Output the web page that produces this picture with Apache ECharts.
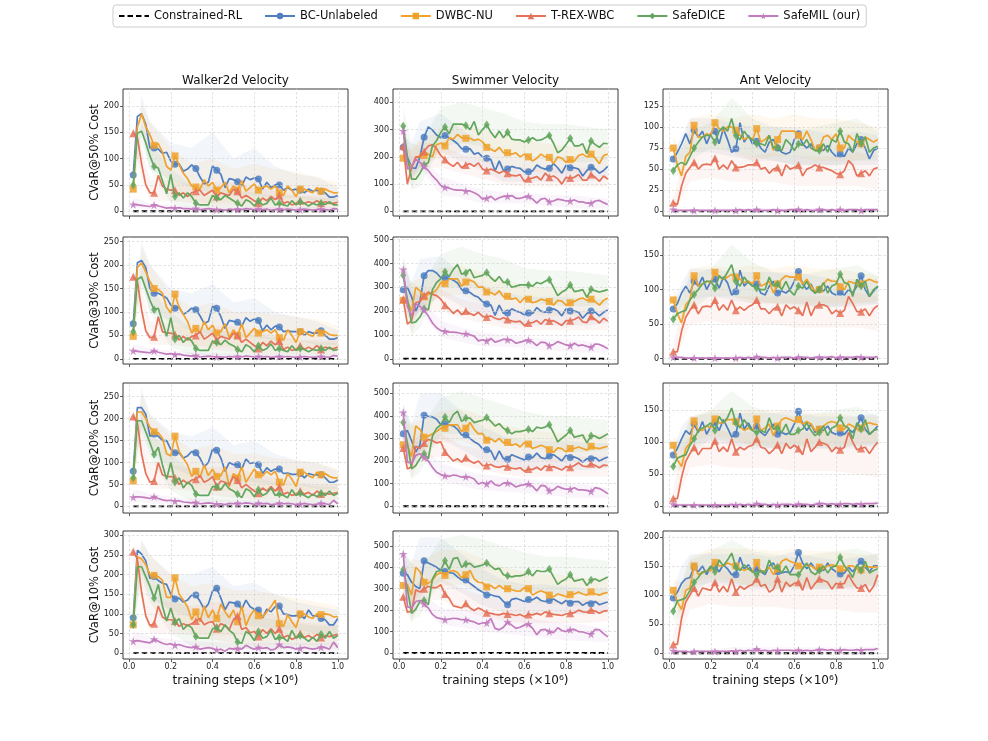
<!DOCTYPE html>
<html><head><meta charset="utf-8">
<script src="https://cdn.jsdelivr.net/npm/echarts@6/dist/echarts.min.js"></script>
<style>html,body{margin:0;padding:0;background:#fff}#c{width:988px;height:741px}</style>
</head><body><div id="c"></div>
<script>
// ---------- labels ----------
const METHODS = ['Constrained-RL','BC-Unlabeled','DWBC-NU','T-REX-WBC','SafeDICE','SafeMIL (our)'];
const ENVS = ['Walker2d Velocity','Swimmer Velocity','Ant Velocity'];
const LEVELS = ['CVaR@50% Cost','CVaR@30% Cost','CVaR@20% Cost','CVaR@10% Cost'];
const XLABEL = 'training steps (\u00d710\u2076)';
// ---------- x values ----------
const STEPS = [0.02,0.04,0.06,0.08,0.1,0.12,0.14,0.16,0.18,0.2,0.22,0.24,0.26,0.28,0.3,0.32,0.34,0.36,0.38,0.4,0.42,0.44,0.46,0.48,0.5,0.52,0.54,0.56,0.58,0.6,0.62,0.64,0.66,0.68,0.7,0.72,0.74,0.76,0.78,0.8,0.82,0.84,0.86,0.88,0.9,0.92,0.94,0.96,0.98,1.0];
const BAND_STEPS = [0.02,0.06,0.1,0.2,0.3,0.4,0.5,0.6,0.7,0.8,0.9,1.0];
const CONSTRAINED_X = [0.02,1.0];
const CONSTRAINED = [0,0];
const X_TICKS = [0,0.2,0.4,0.6,0.8,1.0];
// ---------- y tick labels ----------
const YT_W50=[0,50,100,150,200], YT_S50=[0,100,200,300,400], YT_A50=[0,25,50,75,100,125];
const YT_W30=[0,50,100,150,200,250], YT_S30=[0,100,200,300,400,500], YT_A30=[0,50,100,150];
const YT_W20=[0,50,100,150,200,250], YT_S20=[0,100,200,300,400,500], YT_A20=[0,50,100,150];
const YT_W10=[0,50,100,150,200,250,300], YT_S10=[0,100,200,300,400,500], YT_A10=[0,50,100,150,200];

// ---------- Walker2d, CVaR@50% ----------
const W50_BC=[69,180,185,165,120,120,118,110,112,95,89,90,76,80,88,81,65,52,55,86,78,70,45,62,60,56,48,65,60,63,61,42,55,45,50,50,40,45,40,42,40,35,42,38,40,38,35,27,27,30];
const W50_DW=[42,160,185,160,145,125,128,112,85,78,105,88,72,62,48,46,42,60,48,55,40,45,55,35,48,40,58,38,45,52,40,45,48,42,48,35,30,48,40,28,42,42,38,35,45,38,42,38,35,35];
const W50_TR=[148,140,90,50,35,35,68,48,42,40,40,30,35,28,35,38,40,30,35,40,28,35,32,30,42,38,25,30,25,20,15,25,20,28,22,30,15,18,12,15,20,15,18,15,20,15,18,15,15,17];
const W50_SD=[50,148,152,130,105,85,82,58,33,70,28,35,25,35,28,15,12,12,12,30,25,22,30,25,20,15,10,22,18,10,20,12,15,25,12,15,12,10,20,12,18,15,10,15,12,15,13,18,12,12];
const W50_SM=[13,12,11,10,9,12,10,8,6,7,6,7,5,5,4,5,3,4,5,4,3,3,2,4,3,4,3,5,4,3,4,3,4,2,3,4,3,4,3,2,3,4,3,2,3,4,3,2,5,4];
const W50_BC_HI=[75,220,170,130,120,150,100,120,85,70,65,45], W50_BC_LO=[60,150,80,60,45,35,30,30,25,25,20,15];
const W50_DW_HI=[50,200,170,120,90,100,80,90,80,75,65,55], W50_DW_LO=[35,160,100,50,20,15,15,15,15,15,15,15];
const W50_TR_HI=[160,120,60,60,50,55,55,45,40,30,30,30], W50_TR_LO=[135,60,20,20,15,10,10,5,5,5,5,5];
const W50_SD_HI=[60,170,130,80,50,50,40,35,30,30,25,25], W50_SD_LO=[40,130,80,15,5,5,3,3,3,3,3,3];
const W50_SM_HI=[25,22,15,12,10,10,9,8,8,8,8,8], W50_SM_LO=[5,5,3,1,0,0,0,0,0,0,0,0];

// ---------- Swimmer, CVaR@50% ----------
const S50_BC=[235,200,160,158,200,272,310,298,280,270,278,270,260,248,230,228,230,210,215,200,195,190,148,185,150,155,165,160,158,145,145,148,170,160,155,158,175,160,140,170,160,160,155,130,150,162,155,140,150,165];
const S50_DW=[195,185,160,195,205,205,210,200,245,250,240,270,265,282,270,268,268,260,265,255,235,228,220,235,215,215,210,215,200,210,200,185,195,210,200,198,175,200,195,180,190,185,205,210,200,210,195,175,205,210];
const S50_TR=[240,100,160,200,200,220,240,245,230,205,190,175,165,180,160,170,175,165,178,155,150,155,148,140,148,140,132,130,135,110,120,122,128,115,140,125,130,120,100,125,122,125,135,115,115,135,125,110,130,118];
const S50_SD=[313,200,118,118,140,170,178,240,260,290,310,285,320,320,320,315,300,330,280,300,318,290,270,295,270,290,265,262,262,255,262,270,260,262,270,278,250,215,225,245,268,240,240,248,212,258,245,235,250,248];
const S50_SM=[295,155,165,190,180,165,150,130,115,95,88,85,80,78,78,75,75,68,60,45,48,55,42,50,55,55,58,48,48,52,55,45,30,45,48,35,38,45,42,38,38,42,35,35,30,30,38,40,32,25];
const S50_BC_HI=[280,250,330,360,300,250,220,200,200,200,200,200], S50_BC_LO=[190,120,150,220,180,150,110,110,110,110,110,120];
const S50_DW_HI=[220,240,260,300,320,300,280,260,250,240,240,240], S50_DW_LO=[170,120,160,200,220,180,160,150,140,140,140,160];
const S50_TR_HI=[260,220,260,240,210,190,170,160,160,160,160,150], S50_TR_LO=[220,80,160,160,140,120,100,90,90,90,90,90];
const S50_SD_HI=[380,250,240,380,400,380,360,330,320,320,310,300], S50_SD_LO=[260,80,90,240,250,240,220,200,190,180,180,190];
const S50_SM_HI=[330,200,200,130,100,80,70,70,60,60,55,45], S50_SM_LO=[260,130,160,60,50,30,30,30,20,15,10,10];

// ---------- Ant, CVaR@50% ----------
const A50_BC=[62,70,80,92,80,96,88,95,80,92,95,80,98,85,70,74,105,82,90,80,83,75,70,82,85,75,70,68,70,85,92,80,75,80,72,75,72,78,70,65,68,65,75,70,80,85,75,62,72,75];
const A50_DW=[75,55,42,65,70,102,88,88,92,90,105,98,95,100,100,96,90,85,88,85,98,82,85,90,72,85,95,95,95,95,90,85,95,85,72,75,88,90,85,92,75,75,90,85,82,80,88,85,82,85];
const A50_TR=[10,8,30,45,52,58,50,55,56,55,63,50,55,50,60,52,52,53,55,55,58,50,52,45,50,52,42,55,50,52,55,42,50,52,55,52,52,50,48,45,44,48,60,55,42,45,48,42,50,52];
const A50_SD=[48,55,58,55,65,75,82,88,90,90,82,95,100,95,110,90,85,95,88,85,80,80,78,90,75,76,72,85,80,72,80,78,85,75,72,72,80,70,85,82,95,82,80,70,92,80,88,70,75,77];
const A50_SM=[2,1,1,1,1,1,1,1,1,1,1,1,1,1,1,1,2,1,2,1,2,1,1,1,2,1,1,1,2,2,2,1,2,1,1,2,2,1,2,1,2,1,2,2,2,1,2,2,2,2];
const A50_BC_HI=[70,90,110,110,105,100,100,100,95,90,95,90], A50_BC_LO=[55,60,70,70,65,60,60,55,55,55,55,55];
const A50_DW_HI=[90,70,110,115,110,115,110,115,110,110,105,100], A50_DW_LO=[60,35,70,75,70,60,65,65,60,60,60,65];
const A50_TR_HI=[15,55,70,75,70,65,70,65,65,65,70,65], A50_TR_LO=[5,15,35,40,35,35,35,30,30,30,30,25];
const A50_SD_HI=[60,75,95,105,135,110,100,95,100,105,110,95], A50_SD_LO=[40,45,60,75,70,65,60,55,55,55,60,60];
const A50_SM_HI=[4,3,3,3,4,4,4,4,4,4,4,4], A50_SM_LO=[0,0,0,0,0,0,0,0,0,0,0,0];

// ---------- Walker2d, CVaR@30% ----------
const W30_BC=[75,205,210,195,150,140,140,135,130,115,108,110,95,100,108,105,92,75,80,112,108,90,65,82,80,78,70,88,80,85,82,60,72,62,70,68,58,60,58,58,58,50,58,55,55,60,50,42,42,45];
const W30_DW=[48,195,205,185,165,150,148,140,110,98,138,110,95,80,55,65,55,80,62,72,55,58,75,45,62,50,75,45,55,65,55,58,62,55,62,45,40,62,50,35,58,58,52,48,62,55,58,52,50,50];
const W30_TR=[175,165,105,60,45,47,90,58,55,55,52,40,48,40,48,50,58,42,48,55,40,48,45,42,55,50,35,42,35,28,22,35,28,38,30,38,20,25,18,20,28,20,25,20,28,20,25,22,22,25];
const W30_SD=[58,170,175,150,125,105,108,78,48,88,42,50,35,45,38,22,18,18,18,38,35,30,40,32,28,20,15,30,25,15,28,18,22,32,18,22,18,15,28,18,22,20,15,20,18,22,18,25,18,20];
const W30_SM=[17,16,15,14,13,17,14,12,10,11,9,10,8,7,6,7,4,5,6,5,4,4,3,5,4,5,4,6,5,4,5,4,5,3,4,5,4,5,4,3,4,5,4,3,4,5,4,3,7,6];
const W30_BC_HI=[85,250,200,150,140,160,120,130,100,90,80,60], W30_BC_LO=[65,170,100,80,60,50,45,45,40,40,30,30];
const W30_DW_HI=[60,240,200,140,110,120,100,100,95,90,85,70], W30_DW_LO=[40,180,120,70,30,25,25,25,25,25,25,25];
const W30_TR_HI=[190,150,80,75,65,70,70,60,50,40,40,40], W30_TR_LO=[160,80,30,30,25,20,15,10,10,10,10,10];
const W30_SD_HI=[70,200,150,100,65,65,55,50,45,40,35,35], W30_SD_LO=[45,150,100,25,8,8,5,5,5,5,5,5];
const W30_SM_HI=[30,28,22,18,14,12,12,10,10,10,10,10], W30_SM_LO=[8,8,5,2,0,0,0,0,0,0,0,0];

// ---------- Swimmer, CVaR@30% ----------
const S30_BC=[290,300,260,200,240,348,370,370,360,340,340,338,330,318,290,285,278,265,258,240,230,225,182,225,190,192,210,200,195,185,192,190,215,200,195,205,210,200,180,210,200,200,195,170,190,200,195,180,195,205];
const S30_DW=[245,240,200,300,285,260,270,275,290,320,315,335,335,335,305,322,330,322,300,302,280,278,268,285,260,262,250,255,235,255,250,235,240,250,245,240,225,245,242,225,235,240,250,255,245,250,240,225,245,255];
const S30_TR=[250,145,160,235,240,265,280,270,265,250,225,210,190,205,185,200,190,182,195,178,175,180,170,165,172,165,158,155,158,140,150,152,160,145,165,158,160,150,140,160,160,165,175,155,152,178,165,150,170,158];
const S30_SD=[350,250,150,155,175,210,205,290,320,335,365,345,375,395,355,360,375,340,345,350,362,340,325,345,320,322,300,305,310,310,310,305,320,315,325,332,300,265,280,290,310,282,285,290,258,292,285,280,285,290];
const S30_SM=[375,220,180,230,220,205,180,150,130,118,115,112,112,110,105,105,100,95,75,80,75,85,70,75,82,80,78,65,70,75,78,70,55,70,68,55,60,72,65,58,55,65,55,58,52,48,62,60,52,42];
const S30_BC_HI=[400,320,420,430,360,310,280,260,260,260,250,250], S30_BC_LO=[230,150,200,270,220,180,150,140,140,140,140,150];
const S30_DW_HI=[300,320,340,380,390,360,330,310,300,290,290,290], S30_DW_LO=[200,160,210,260,270,230,200,190,180,180,180,200];
const S30_TR_HI=[280,240,300,290,250,230,210,200,200,200,200,200], S30_TR_LO=[220,100,200,200,170,150,130,120,120,120,120,120];
const S30_SD_HI=[420,320,300,440,470,440,420,380,370,370,360,350], S30_SD_LO=[290,100,130,300,300,290,260,240,230,220,220,230];
const S30_SM_HI=[430,290,260,160,130,110,100,90,85,80,75,60], S30_SM_LO=[320,170,200,90,70,50,50,45,35,30,25,25];

// ---------- Ant, CVaR@30% ----------
const A30_BC=[72,80,95,105,95,112,105,118,100,112,115,102,118,110,92,97,128,105,112,105,108,95,92,105,112,95,98,95,100,112,126,108,100,108,95,100,98,105,95,92,96,92,100,95,105,120,100,90,98,104];
const A30_DW=[85,65,52,78,85,120,105,108,112,110,125,118,115,118,122,118,115,110,112,108,120,105,108,112,95,108,115,120,118,118,118,108,115,105,98,100,108,115,112,112,104,100,112,110,108,108,112,115,112,110];
const A30_TR=[10,10,40,60,70,78,65,75,76,75,85,70,78,70,85,70,75,70,75,78,85,72,72,65,72,75,62,78,72,75,70,62,82,62,75,78,78,75,65,70,66,70,90,80,68,68,72,62,72,77];
const A30_SD=[57,65,68,70,85,93,100,108,112,112,102,120,115,125,136,112,105,118,110,105,102,100,100,118,105,108,100,112,98,92,105,102,112,100,95,100,110,95,105,108,122,110,108,90,115,105,112,90,100,105];
const A30_SM=[2,2,2,1,1,1,1,1,1,1,1,1,1,1,1,1,2,1,2,1,3,2,2,1,2,1,2,2,2,1,2,2,2,1,2,2,2,2,3,1,2,2,2,2,3,2,2,2,2,3];
const A30_BC_HI=[80,110,130,130,125,125,125,125,120,115,115,115], A30_BC_LO=[60,75,85,90,85,80,80,80,75,75,75,80];
const A30_DW_HI=[100,85,130,135,130,135,130,135,130,130,125,120], A30_DW_LO=[70,45,90,95,90,80,80,80,80,80,80,85];
const A30_TR_HI=[20,70,90,95,90,90,90,90,90,90,95,90], A30_TR_LO=[5,20,50,55,50,50,50,45,45,45,45,40];
const A30_SD_HI=[70,90,120,130,165,140,125,120,125,130,135,120], A30_SD_LO=[45,55,70,90,90,85,80,75,75,75,80,80];
const A30_SM_HI=[5,4,4,4,5,5,5,5,5,5,5,5], A30_SM_LO=[0,0,0,0,0,0,0,0,0,0,0,0];

// ---------- Walker2d, CVaR@20% ----------
const W20_BC=[80,225,225,210,160,165,160,150,150,130,122,122,110,115,125,122,110,90,100,130,128,110,80,100,95,95,85,108,98,100,95,75,88,80,85,85,75,76,73,73,75,65,75,72,72,72,65,55,55,60];
const W20_DW=[58,215,215,200,180,170,168,155,120,115,160,125,110,95,68,80,65,95,70,85,68,70,90,45,75,65,90,55,70,85,72,70,80,72,80,55,48,75,62,45,78,78,70,65,78,72,75,68,65,65];
const W20_TR=[205,190,120,75,55,58,100,72,68,68,65,50,60,52,60,62,70,55,60,68,45,58,55,50,68,60,42,50,42,35,30,42,35,45,35,45,28,32,25,28,35,28,32,25,35,28,30,28,30,32];
const W20_SD=[65,195,195,170,145,118,135,95,62,100,55,65,42,55,48,28,25,25,25,45,45,38,52,40,35,28,20,40,35,22,38,25,30,42,25,28,25,20,38,25,30,25,20,28,22,30,25,35,25,30];
const W20_SM=[21,22,21,20,18,22,18,15,13,14,12,13,10,9,8,9,6,7,8,7,5,6,4,7,6,7,6,8,7,5,7,6,7,4,5,7,6,7,6,4,5,7,5,4,5,7,6,4,14,6];
const W20_BC_HI=[95,270,210,170,160,180,140,150,120,105,100,80], W20_BC_LO=[70,180,120,90,70,60,55,55,50,50,40,40];
const W20_DW_HI=[70,255,210,160,130,140,120,120,110,105,100,85], W20_DW_LO=[45,190,140,80,40,35,35,35,35,35,35,35];
const W20_TR_HI=[220,185,100,95,85,90,90,75,65,55,50,50], W20_TR_LO=[185,100,40,40,35,25,20,15,15,15,15,15];
const W20_SD_HI=[80,230,170,120,80,80,70,65,55,50,45,45], W20_SD_LO=[50,170,110,35,12,10,8,8,8,8,8,8];
const W20_SM_HI=[38,35,28,22,18,16,15,14,14,14,14,14], W20_SM_LO=[10,10,6,3,0,0,0,0,0,0,0,0];

// ---------- Swimmer, CVaR@20% ----------
const S20_BC=[320,335,290,240,270,402,398,395,385,360,365,360,355,340,315,315,300,285,275,255,250,245,205,245,210,208,228,220,212,205,218,215,235,215,210,222,228,215,200,225,215,218,210,195,210,210,215,200,210,218];
const S20_DW=[272,270,220,355,340,305,310,320,330,345,345,360,360,360,330,345,370,340,320,322,292,298,285,300,280,282,270,275,262,282,275,255,262,270,262,250,238,258,255,240,255,255,262,255,248,265,258,255,260,265];
const S20_TR=[258,165,175,265,255,280,295,290,280,285,240,220,200,210,195,215,200,190,200,180,180,185,175,172,178,175,168,165,170,155,165,162,172,160,178,172,175,168,160,175,172,180,192,178,175,188,180,170,182,180];
const S20_SD=[370,280,165,180,210,232,210,310,345,360,395,370,405,420,375,390,390,370,375,380,392,375,355,365,345,335,320,330,330,335,340,330,350,345,350,360,325,285,300,315,335,305,310,315,280,312,310,300,310,320];
const S20_SM=[415,195,190,225,232,215,200,172,150,140,135,132,138,135,128,130,128,120,98,105,98,112,95,90,102,103,98,85,92,95,98,88,68,92,90,68,72,88,80,75,75,82,72,72,70,65,82,78,68,55];
const S20_BC_HI=[440,360,500,500,420,350,310,290,290,290,280,280], S20_BC_LO=[240,170,240,300,250,200,170,160,160,160,160,170];
const S20_DW_HI=[340,370,380,420,430,400,360,340,330,320,320,320], S20_DW_LO=[220,180,240,280,290,250,220,210,200,200,200,220];
const S20_TR_HI=[290,270,320,320,270,250,230,220,220,220,220,220], S20_TR_LO=[230,120,210,220,180,160,140,130,130,130,130,130];
const S20_SD_HI=[450,360,340,480,510,480,450,420,400,400,390,380], S20_SD_LO=[300,120,150,320,320,310,280,260,250,240,240,250];
const S20_SM_HI=[460,300,280,190,160,140,130,120,110,100,95,80], S20_SM_LO=[360,180,220,110,90,70,65,60,50,40,35,35];

// ---------- Ant, CVaR@20% ----------
const A20_BC=[80,90,105,118,112,128,115,132,112,125,130,118,135,122,108,112,145,120,130,118,125,115,110,120,128,112,115,112,115,128,148,128,118,128,115,120,118,125,115,112,114,112,120,115,125,138,120,112,118,125];
const A20_DW=[95,72,62,90,98,133,118,118,125,122,136,130,130,135,135,132,125,118,122,118,136,118,122,128,110,125,135,138,135,132,135,128,132,128,118,120,125,130,132,130,122,120,128,125,120,122,128,130,128,127];
const A20_TR=[12,12,45,70,82,92,80,90,90,90,102,85,92,85,105,85,92,88,93,95,105,92,90,82,88,96,82,98,90,95,90,80,105,85,92,100,98,95,85,92,88,92,115,100,88,90,92,82,92,100];
const A20_SD=[62,75,78,80,95,105,118,122,125,130,118,140,130,138,153,130,122,135,125,118,115,118,115,138,120,122,115,128,112,112,118,120,130,118,110,115,125,110,122,125,138,125,122,105,130,120,135,112,118,120];
const A20_SM=[3,2,2,2,2,2,2,2,2,2,2,2,2,2,3,2,3,2,3,2,4,3,3,2,3,2,3,3,3,2,3,3,3,2,3,4,4,3,4,3,3,4,4,3,4,3,4,4,4,5];
const A20_BC_HI=[90,125,140,145,145,145,145,150,140,140,140,145], A20_BC_LO=[65,85,95,100,95,90,90,95,90,90,90,95];
const A20_DW_HI=[110,100,140,150,150,150,150,150,145,145,140,140], A20_DW_LO=[75,50,100,110,105,95,95,95,95,95,95,100];
const A20_TR_HI=[25,90,110,120,115,115,115,115,115,115,120,115], A20_TR_LO=[5,25,60,65,60,60,60,55,55,55,50,45];
const A20_SD_HI=[75,100,135,150,180,155,145,140,145,150,155,140], A20_SD_LO=[50,60,80,105,100,95,90,90,90,90,95,95];
const A20_SM_HI=[6,5,5,5,7,7,7,7,7,7,7,8], A20_SM_LO=[0,0,0,0,0,0,0,0,0,0,0,0];

// ---------- Walker2d, CVaR@10% ----------
const W10_BC=[90,262,252,235,190,195,185,178,175,150,138,140,130,135,148,148,132,112,125,158,165,140,110,130,128,125,112,135,118,112,110,90,112,105,118,120,100,98,95,95,98,88,110,95,95,88,85,72,72,88];
const W10_DW=[72,245,240,225,200,198,195,185,142,142,192,150,135,118,85,105,80,120,90,110,88,125,105,90,110,80,120,70,95,110,95,92,105,118,135,75,68,98,80,65,100,100,92,88,100,98,100,98,92,93];
const W10_TR=[258,240,155,95,70,75,120,92,85,85,82,68,75,70,75,82,88,72,78,80,62,75,70,60,85,95,60,65,52,55,42,60,50,62,50,62,40,45,35,40,50,40,45,38,48,40,45,42,45,48];
const W10_SD=[72,220,220,195,170,140,175,120,82,115,78,88,60,72,65,42,38,38,38,62,65,55,72,58,50,28,25,55,48,32,55,38,42,58,35,40,38,30,58,38,45,38,30,40,30,48,38,55,38,45];
const W10_SM=[30,32,30,28,26,35,30,25,22,24,20,22,18,15,14,16,10,12,14,12,8,10,5,12,10,12,10,20,14,10,14,12,14,8,10,22,14,16,14,10,12,15,12,10,12,15,14,10,28,14];
const W10_BC_HI=[110,290,250,200,200,220,170,180,150,130,120,110], W10_BC_LO=[75,210,140,110,90,80,70,70,60,60,50,50];
const W10_DW_HI=[85,285,250,200,170,180,160,160,150,140,130,120], W10_DW_LO=[55,210,160,100,50,45,45,45,45,45,45,45];
const W10_TR_HI=[275,240,140,130,120,130,130,110,95,80,75,75], W10_TR_LO=[235,130,50,50,45,35,25,20,20,20,20,20];
const W10_SD_HI=[90,260,200,150,110,110,100,95,85,75,70,70], W10_SD_LO=[55,190,130,50,18,15,10,10,10,10,10,10];
const W10_SM_HI=[55,50,42,35,30,28,26,25,25,25,25,25], W10_SM_LO=[10,12,8,4,0,0,0,0,0,0,0,0];

// ---------- Swimmer, CVaR@10% ----------
const S10_BC=[372,365,330,310,300,430,420,410,400,385,380,375,372,355,340,340,325,310,295,285,270,272,265,262,240,225,250,255,248,240,250,248,260,245,240,245,252,240,230,245,232,240,240,222,235,230,240,225,232,238];
const S10_DW=[315,320,270,400,380,330,325,340,365,375,362,380,385,375,350,365,385,345,330,328,308,315,300,315,300,300,295,290,288,305,300,270,282,290,282,270,262,275,270,262,272,275,285,275,270,285,275,270,278,282];
const S10_TR=[262,190,195,295,285,300,310,305,305,318,275,255,220,215,210,232,210,198,210,200,188,185,180,178,185,182,180,175,180,170,180,178,185,178,192,185,180,178,175,182,185,188,200,192,190,200,195,185,195,198];
const S10_SD=[390,300,185,205,240,245,225,345,380,385,430,390,440,445,400,415,418,400,405,410,420,405,390,395,365,360,355,360,360,365,380,360,385,380,380,392,355,320,335,345,365,335,340,345,315,340,345,335,345,355];
const S10_SM=[462,215,210,240,245,228,210,180,165,160,155,158,162,160,155,155,150,145,135,140,140,160,115,108,120,145,130,115,120,130,135,115,85,108,110,100,95,118,105,100,108,110,100,98,92,88,110,108,90,75];
const S10_BC_HI=[480,420,540,540,460,390,340,320,320,310,300,300], S10_BC_LO=[280,220,300,330,280,220,190,180,180,180,180,190];
const S10_DW_HI=[380,440,430,480,480,440,400,380,370,360,350,350], S10_DW_LO=[250,200,270,310,320,280,250,240,230,220,220,240];
const S10_TR_HI=[300,300,340,350,300,270,250,240,240,240,250,240], S10_TR_LO=[220,140,240,250,200,170,150,140,140,140,140,150];
const S10_SD_HI=[470,420,380,530,550,530,500,470,450,450,440,430], S10_SD_LO=[310,150,170,340,350,340,310,290,280,270,270,280];
const S10_SM_HI=[500,300,290,210,200,190,180,170,150,140,130,110], S10_SM_LO=[420,160,230,130,120,100,90,80,70,60,55,50];

// ---------- Ant, CVaR@10% ----------
const A10_BC=[95,105,120,128,130,148,140,150,135,148,150,140,152,145,135,135,165,145,152,140,145,140,135,150,155,140,138,140,138,150,173,155,145,155,145,145,142,155,145,140,136,138,148,140,150,158,148,140,150,150];
const A10_DW=[108,88,75,108,112,150,135,138,142,142,156,150,150,155,152,150,145,142,145,140,156,140,142,148,135,145,158,162,158,155,150,148,152,150,145,148,145,150,152,150,145,142,150,150,145,143,150,148,148,148];
const A10_TR=[15,15,60,88,100,112,98,112,110,108,122,105,115,105,128,105,115,110,115,118,128,115,118,105,110,128,105,122,115,120,122,108,130,110,120,128,125,122,110,120,118,120,135,122,112,112,118,105,115,135];
const A10_SD=[72,90,92,95,108,122,130,140,140,150,140,160,150,160,172,148,142,152,145,140,135,142,138,160,145,148,138,150,135,135,135,145,155,140,135,142,150,138,148,150,165,150,142,130,152,142,158,138,142,145];
const A10_SM=[4,3,3,3,2,3,3,3,3,3,3,3,3,3,4,3,5,3,5,4,7,4,5,3,5,4,5,5,5,4,5,4,5,4,5,6,6,5,6,4,5,6,5,5,6,5,6,6,6,8];
const A10_BC_HI=[110,150,170,170,170,170,165,175,165,160,165,170], A10_BC_LO=[80,100,115,120,115,110,110,115,110,110,110,115];
const A10_DW_HI=[125,120,165,180,180,180,175,180,175,175,170,170], A10_DW_LO=[90,60,120,130,125,115,115,115,115,115,115,120];
const A10_TR_HI=[30,110,135,145,140,140,140,140,140,140,145,150], A10_TR_LO=[5,35,75,85,80,80,80,75,75,75,70,70];
const A10_SD_HI=[90,120,160,175,195,175,170,165,170,175,180,170], A10_SD_LO=[55,70,100,125,120,115,110,110,110,110,115,115];
const A10_SM_HI=[8,6,6,6,10,10,10,10,10,10,10,12], A10_SM_LO=[0,0,0,0,0,0,0,0,0,0,0,0];

// ---------- panel table (built from the arrays above) ----------
const PANELS = [
 {row:0,col:0,min:-9,  max:232,ticks:YT_W50,d:[W50_BC,W50_DW,W50_TR,W50_SD,W50_SM],hi:[W50_BC_HI,W50_DW_HI,W50_TR_HI,W50_SD_HI,W50_SM_HI],lo:[W50_BC_LO,W50_DW_LO,W50_TR_LO,W50_SD_LO,W50_SM_LO]},
 {row:0,col:1,min:-17, max:449,ticks:YT_S50,d:[S50_BC,S50_DW,S50_TR,S50_SD,S50_SM],hi:[S50_BC_HI,S50_DW_HI,S50_TR_HI,S50_SD_HI,S50_SM_HI],lo:[S50_BC_LO,S50_DW_LO,S50_TR_LO,S50_SD_LO,S50_SM_LO]},
 {row:0,col:2,min:-5.6,max:145,ticks:YT_A50,d:[A50_BC,A50_DW,A50_TR,A50_SD,A50_SM],hi:[A50_BC_HI,A50_DW_HI,A50_TR_HI,A50_SD_HI,A50_SM_HI],lo:[A50_BC_LO,A50_DW_LO,A50_TR_LO,A50_SD_LO,A50_SM_LO]},
 {row:1,col:0,min:-11, max:260,ticks:YT_W30,d:[W30_BC,W30_DW,W30_TR,W30_SD,W30_SM],hi:[W30_BC_HI,W30_DW_HI,W30_TR_HI,W30_SD_HI,W30_SM_HI],lo:[W30_BC_LO,W30_DW_LO,W30_TR_LO,W30_SD_LO,W30_SM_LO]},
 {row:1,col:1,min:-22, max:511,ticks:YT_S30,d:[S30_BC,S30_DW,S30_TR,S30_SD,S30_SM],hi:[S30_BC_HI,S30_DW_HI,S30_TR_HI,S30_SD_HI,S30_SM_HI],lo:[S30_BC_LO,S30_DW_LO,S30_TR_LO,S30_SD_LO,S30_SM_LO]},
 {row:1,col:2,min:-7.6,max:176,ticks:YT_A30,d:[A30_BC,A30_DW,A30_TR,A30_SD,A30_SM],hi:[A30_BC_HI,A30_DW_HI,A30_TR_HI,A30_SD_HI,A30_SM_HI],lo:[A30_BC_LO,A30_DW_LO,A30_TR_LO,A30_SD_LO,A30_SM_LO]},
 {row:2,col:0,min:-15, max:281,ticks:YT_W20,d:[W20_BC,W20_DW,W20_TR,W20_SD,W20_SM],hi:[W20_BC_HI,W20_DW_HI,W20_TR_HI,W20_SD_HI,W20_SM_HI],lo:[W20_BC_LO,W20_DW_LO,W20_TR_LO,W20_SD_LO,W20_SM_LO]},
 {row:2,col:1,min:-30, max:545,ticks:YT_S20,d:[S20_BC,S20_DW,S20_TR,S20_SD,S20_SM],hi:[S20_BC_HI,S20_DW_HI,S20_TR_HI,S20_SD_HI,S20_SM_HI],lo:[S20_BC_LO,S20_DW_LO,S20_TR_LO,S20_SD_LO,S20_SM_LO]},
 {row:2,col:2,min:-10.5,max:192,ticks:YT_A20,d:[A20_BC,A20_DW,A20_TR,A20_SD,A20_SM],hi:[A20_BC_HI,A20_DW_HI,A20_TR_HI,A20_SD_HI,A20_SM_HI],lo:[A20_BC_LO,A20_DW_LO,A20_TR_LO,A20_SD_LO,A20_SM_LO]},
 {row:3,col:0,min:-15, max:311,ticks:YT_W10,d:[W10_BC,W10_DW,W10_TR,W10_SD,W10_SM],hi:[W10_BC_HI,W10_DW_HI,W10_TR_HI,W10_SD_HI,W10_SM_HI],lo:[W10_BC_LO,W10_DW_LO,W10_TR_LO,W10_SD_LO,W10_SM_LO]},
 {row:3,col:1,min:-28, max:569,ticks:YT_S10,d:[S10_BC,S10_DW,S10_TR,S10_SD,S10_SM],hi:[S10_BC_HI,S10_DW_HI,S10_TR_HI,S10_SD_HI,S10_SM_HI],lo:[S10_BC_LO,S10_DW_LO,S10_TR_LO,S10_SD_LO,S10_SM_LO]},
 {row:3,col:2,min:-10, max:210,ticks:YT_A10,d:[A10_BC,A10_DW,A10_TR,A10_SD,A10_SM],hi:[A10_BC_HI,A10_DW_HI,A10_TR_HI,A10_SD_HI,A10_SM_HI],lo:[A10_BC_LO,A10_DW_LO,A10_TR_LO,A10_SD_LO,A10_SM_LO]}
];

// ---------- styling / layout ----------
const FONT = 'DejaVu Sans';
const COLORS = ['#000000','#4f7fc1','#f0a22d','#e5735a','#63a65d','#c27cbe'];
const STAR = 'path://M50,0L61.2,34.5L97.6,34.5L68.2,55.9L79.4,90.5L50,69.1L20.6,90.5L31.8,55.9L2.4,34.5L38.8,34.5Z';
const SYMS = ['none','circle','rect','triangle','diamond',STAR];
const SYM_SIZE = [0,7,7,8,[6,8.5],8.5];
const MARKER_EVERY = 5;
const COL_LEFT = [123,393,663], GRID_W = 225;
const ROW_TOP = [89,237,383,531], ROW_H = [127,127,130,128];
const X_MIN = -0.029, X_MAX = 1.049;

const grids=[], xAxes=[], yAxes=[], series=[], graphics=[];
PANELS.forEach((p,g)=>{
  grids.push({left:COL_LEFT[p.col], top:ROW_TOP[p.row], width:GRID_W, height:ROW_H[p.row], show:true,
    borderColor:'#3a3a3a', borderWidth:1, backgroundColor:'rgba(0,0,0,0)'});
  xAxes.push({gridIndex:g, type:'value', min:X_MIN, max:X_MAX,
    axisLine:{show:false,onZero:false}, splitLine:{show:false},
    axisTick:{show:true, customValues:X_TICKS, length:3, lineStyle:{color:'#333',width:0.8}},
    axisLabel:{show:p.row===3, customValues:X_TICKS, formatter:v=>v.toFixed(1), fontSize:8, color:'#222', fontFamily:FONT, margin:4}});
  yAxes.push({gridIndex:g, type:'value', min:p.min, max:p.max,
    axisLine:{show:false,onZero:false}, splitLine:{show:false},
    axisTick:{show:true, customValues:p.ticks, length:3, lineStyle:{color:'#333',width:0.8}},
    axisLabel:{customValues:p.ticks, fontSize:8, color:'#222', fontFamily:FONT, margin:4}});
  // grid lines
  series.push({type:'line', name:'_grid'+g, xAxisIndex:g, yAxisIndex:g, data:[[0.5,0]], symbol:'none',
    lineStyle:{opacity:0}, silent:true, z:0,
    markLine:{silent:true, symbol:['none','none'], label:{show:false}, animation:false,
      lineStyle:{color:'#d4d4d4', type:[2.5,2], width:0.7},
      data: X_TICKS.map(v=>({xAxis:v})).concat(p.ticks.map(v=>({yAxis:v})))}});
  // bands
  for(let k=0;k<5;k++){
    const hi=p.hi[k], lo=p.lo[k], col=COLORS[k+1];
    series.push({type:'custom', name:'_band'+g+'_'+k, xAxisIndex:g, yAxisIndex:g, silent:true, z:1,
      data:[[0.5,0]],
      renderItem:(params, api)=>{
        const pts=[];
        BAND_STEPS.forEach((x,i)=>pts.push(api.coord([x,hi[i]])));
        for(let i=BAND_STEPS.length-1;i>=0;i--) pts.push(api.coord([BAND_STEPS[i],lo[i]]));
        return {type:'polygon', shape:{points:pts}, style:{fill:col, opacity:0.075}};
      }});
  }
  // constrained RL
  series.push({type:'line', name:METHODS[0], xAxisIndex:g, yAxisIndex:g,
    data:CONSTRAINED_X.map((x,i)=>[x,CONSTRAINED[i]]), symbol:'none',
    lineStyle:{color:'#000', width:1.9, type:[5.5,3]}, itemStyle:{color:'#000'}, z:3});
  // methods
  for(let k=0;k<5;k++){
    const arr=p.d[k], col=COLORS[k+1];
    series.push({type:'line', name:METHODS[k+1], xAxisIndex:g, yAxisIndex:g,
      data:STEPS.map((x,i)=>[x,arr[i]]), showSymbol:false, symbol:SYMS[k+1], symbolSize:SYM_SIZE[k+1],
      lineStyle:{color:col, width:1.7}, itemStyle:{color:col}, z:4+k});
    series.push({type:'scatter', name:'_mk'+g+'_'+k, xAxisIndex:g, yAxisIndex:g,
      data:STEPS.map((x,i)=>[x,arr[i]]).filter((_,i)=>i%MARKER_EVERY===0),
      symbol:SYMS[k+1], symbolSize:SYM_SIZE[k+1], itemStyle:{color:col, opacity:0.85}, z:4+k, silent:true});
  }
});

// texts
ENVS.forEach((t,c)=>graphics.push({type:'text', x:COL_LEFT[c]+GRID_W/2, y:81,
  style:{text:t, fontSize:12, fontFamily:FONT, fill:'#111', align:'center', verticalAlign:'middle'}}));
LEVELS.forEach((t,r)=>graphics.push({type:'text', x:95, y:ROW_TOP[r]+ROW_H[r]/2, rotation:Math.PI/2,
  style:{text:t, fontSize:11.5, fontFamily:FONT, fill:'#111', align:'center', verticalAlign:'middle'}}));
[0,1,2].forEach(c=>graphics.push({type:'text', x:COL_LEFT[c]+GRID_W/2, y:681,
  style:{text:XLABEL, fontSize:12, fontFamily:FONT, fill:'#111', align:'center', verticalAlign:'middle'}}));

const LEGEND_DATA = METHODS.map((m,i)=> i===0 ? {name:m, itemStyle:{opacity:0}} : {name:m});
const option = {
  animation:false,
  backgroundColor:'#fff',
  legend:{data:LEGEND_DATA, left:113, top:5, itemWidth:30, itemHeight:8, itemGap:22,
    textStyle:{fontSize:11.5, fontFamily:FONT, color:'#111'},
    borderColor:'#cccccc', borderWidth:1, borderRadius:3, padding:[5,6,5,5]},
  grid:grids, xAxis:xAxes, yAxis:yAxes, series:series, graphic:graphics
};
const chart = echarts.init(document.getElementById('c'));
chart.setOption(option);
</script>
</body></html>
